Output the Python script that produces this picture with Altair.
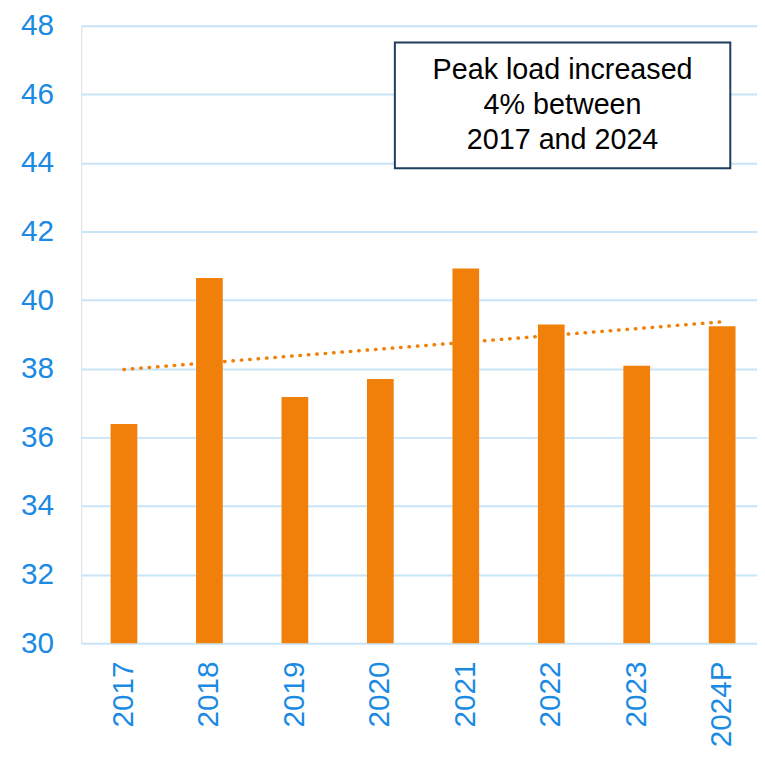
import altair as alt
import pandas as pd

# ---- data ----
years = ["2017", "2018", "2019", "2020", "2021", "2022", "2023", "2024P"]
peak_load = [36.39, 40.65, 37.18, 37.70, 40.92, 39.29, 38.09, 39.24]
trend_years = ["2017", "2024P"]
trend_values = [37.98, 39.37]
note_lines = ["Peak load increased", "4% between", "2017 and 2024"]
y_ticks = [30, 32, 34, 36, 38, 40, 42, 44, 46, 48]

bars_df = pd.DataFrame({"year": years, "peak": peak_load})
trend_df = pd.DataFrame({"year": trend_years, "peak": trend_values})
one_df = pd.DataFrame({"k": [0]})

BLUE = "#1a8ae3"
GRID = "#c8e4f8"
ORANGE = "#f0800a"
FONT = "Liberation Sans"

x_enc = alt.X(
    "year:N",
    sort=years,
    title=None,
    scale=alt.Scale(paddingInner=0, paddingOuter=0, range=[0, 691]),
    axis=alt.Axis(
        labelAngle=-90,
        labelAlign="right",
        labelBaseline="middle",
        labelPadding=18,
        labelFontSize=30,
        labelColor=BLUE,
        labelFont=FONT,
        ticks=False,
        domain=False,
        grid=False,
    ),
)
y_enc = alt.Y(
    "peak:Q",
    title=None,
    scale=alt.Scale(domain=[30, 48], nice=False, zero=False),
    axis=alt.Axis(
        values=y_ticks,
        labelFontSize=30,
        labelColor=BLUE,
        labelFont=FONT,
        labelPadding=28,
        ticks=False,
        domain=False,
        grid=True,
        gridColor=GRID,
        gridWidth=2,
    ),
)

bars = alt.Chart(bars_df).mark_bar(size=27, color=ORANGE, clip=True).encode(
    x=x_enc, y=y_enc
)

trend = alt.Chart(trend_df).mark_line(
    color=ORANGE, strokeWidth=3.5, strokeDash=[0.5, 8], strokeCap="round"
).encode(x=alt.X("year:N", sort=years), y=alt.Y("peak:Q"))

box = alt.Chart(one_df).mark_rect(
    fill="white", stroke="#1f3d5c", strokeWidth=2
).encode(
    x=alt.value(317), x2=alt.value(656), y=alt.value(17), y2=alt.value(144)
)

note = alt.Chart(one_df).mark_text(
    text=note_lines,
    font=FONT,
    fontSize=29,
    color="black",
    align="center",
    baseline="middle",
    lineHeight=35.5,
).encode(x=alt.value(486.5), y=alt.value(45))

chart = (
    alt.layer(bars, trend, box, note)
    .properties(
        width=683,
        height=624,
        autosize=alt.AutoSizeParams(type="none"),
        padding={"left": 74, "top": 14, "right": 0, "bottom": 104},
    )
    .configure_view(stroke=None)
    .configure(background="white")
)

chart.save("out.html", embed_options={"renderer": "svg", "actions": False})
